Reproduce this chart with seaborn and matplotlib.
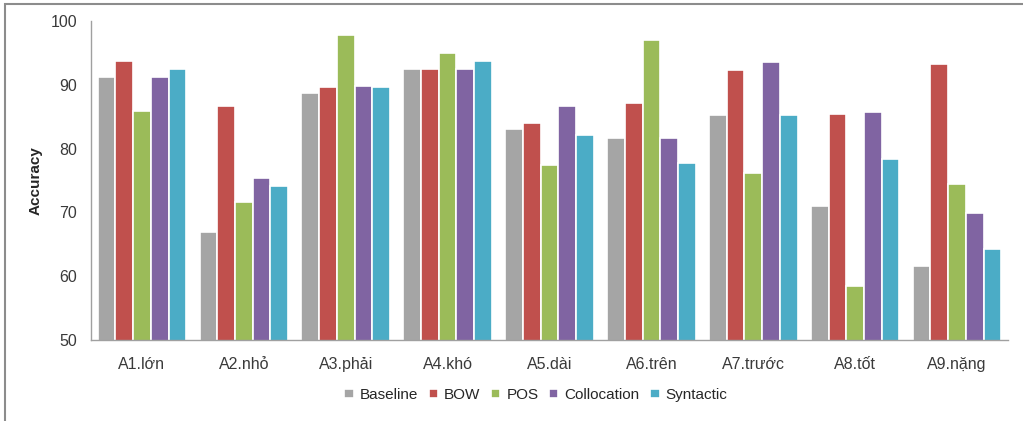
import matplotlib
matplotlib.use("Agg")
import matplotlib.pyplot as plt
from matplotlib.patches import Rectangle
from matplotlib.font_manager import FontProperties
import pandas as pd
import seaborn as sns

categories = ["A1.lớn", "A2.nhỏ", "A3.phải", "A4.khó", "A5.dài",
              "A6.trên", "A7.trước", "A8.tốt", "A9.nặng"]
baseline = [91.3, 67.0, 88.7, 92.5, 83.1, 81.7, 85.3, 71.0, 61.6]
bow = [93.8, 86.7, 89.7, 92.5, 84.0, 87.1, 92.3, 85.4, 93.3]
pos = [85.9, 71.6, 97.8, 95.0, 77.4, 97.0, 76.2, 58.4, 74.5]
collocation = [91.3, 75.4, 89.8, 92.5, 86.7, 81.7, 93.5, 85.7, 69.9]
syntactic = [92.5, 74.1, 89.6, 93.7, 82.1, 77.7, 85.3, 78.4, 64.3]

series_names = ["Baseline", "BOW", "POS", "Collocation", "Syntactic"]
series_values = [baseline, bow, pos, collocation, syntactic]
colors = ["#A5A5A5", "#C0504D", "#9BBB59", "#8064A2", "#4BACC6"]

rows = []
for name, vals in zip(series_names, series_values):
    for cat, v in zip(categories, vals):
        rows.append({"Word": cat, "Method": name, "Accuracy": v})
df = pd.DataFrame(rows)

sns.set_theme(style="white")
plt.rcParams["font.family"] = ["Liberation Sans", "DejaVu Sans"]

fig = plt.figure(figsize=(10.23, 4.21), dpi=100)
ax = fig.add_axes([91 / 1023, 1 - 340 / 421, (1008 - 91) / 1023, (340 - 21) / 421])

sns.barplot(data=df, x="Word", y="Accuracy", hue="Method",
            palette=colors, saturation=1, width=0.87, gap=0, ax=ax,
            edgecolor="white", linewidth=1.2, errorbar=None)

ax.set_ylim(50, 100)
ax.set_yticks([50, 60, 70, 80, 90, 100])
ax.set_xlim(-0.5, len(categories) - 0.5)
ax.set_xlabel("")
ax.set_ylabel("Accuracy", fontsize=11, fontweight="bold", labelpad=6)
ax.tick_params(axis="both", length=0, labelsize=11.5, colors="#3a3a3a")
ax.tick_params(axis="x", pad=12)
ax.tick_params(axis="y", pad=10)

for side in ["top", "right"]:
    ax.spines[side].set_visible(False)
for side in ["left", "bottom"]:
    ax.spines[side].set_color("#A0A0A0")
    ax.spines[side].set_linewidth(1.0)

handles, labels = ax.get_legend_handles_labels()
ax.legend_.remove()
leg = fig.legend(handles, labels, loc="center", ncol=5,
                 bbox_to_anchor=(536 / 1023, 1 - 395 / 421),
                 frameon=False,
                 prop=FontProperties(family="Liberation Sans", size=11),
                 handlelength=0.6, handleheight=0.6,
                 handletextpad=0.4, columnspacing=0.7)

# outer frame
fig.patches.append(Rectangle((5 / 1023, -0.1), 1.2, 1 - 4 / 421 + 0.1,
                             transform=fig.transFigure, fill=False,
                             edgecolor="#8C8C8C", linewidth=1.5))

fig.savefig("out.png", dpi=100)
